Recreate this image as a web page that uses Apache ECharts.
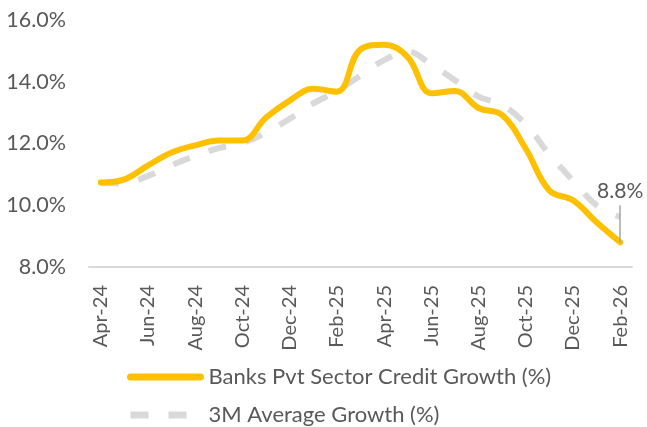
<!DOCTYPE html>
<html><head><meta charset="utf-8">
<script src="https://cdn.jsdelivr.net/npm/echarts@6/dist/echarts.min.js"></script>
<style>html,body{margin:0;padding:0;background:#fff}#c{width:647px;height:427px}</style>
</head><body><div id="c"></div>
<script>
const categories = ['Apr-24','May-24','Jun-24','Jul-24','Aug-24','Sep-24','Oct-24','Nov-24','Dec-24','Jan-25','Feb-25','Mar-25','Apr-25','May-25','Jun-25','Jul-25','Aug-25','Sep-25','Oct-25','Nov-25','Dec-25','Jan-26','Feb-26'];
const creditGrowth = [10.74,10.84,11.29,11.71,11.94,12.10,12.10,12.84,13.39,13.77,13.68,15.05,15.20,14.80,13.63,13.70,13.15,12.92,11.83,10.48,10.16,9.45,8.80];
const avgGrowth = [10.71,10.72,10.95,11.30,11.60,11.85,12.02,12.35,12.80,13.30,13.70,14.20,14.70,14.98,14.55,14.05,13.52,13.25,12.62,11.65,10.80,10.00,9.62];
const seriesNames = ['Banks Pvt Sector Credit Growth (%)','3M Average Growth (%)'];
const lastIdx = categories.length - 1;
const calloutText = creditGrowth[lastIdx].toFixed(1) + '%';

const FONT = 'Lato';
const TXT = '#595959';
const chart = echarts.init(document.getElementById('c'), null, {renderer: 'canvas'});
chart.setOption({
  animation: false,
  grid: {left: 89, right: 15, top: 20, bottom: 160, containLabel: false},
  xAxis: {
    type: 'category', data: categories, boundaryGap: true,
    axisLine: {show: true, lineStyle: {color: '#d9d9d9', width: 2}},
    axisTick: {show: false},
    axisLabel: {rotate: 90, interval: 1, margin: 18, color: TXT, fontFamily: FONT, fontSize: 20}
  },
  yAxis: {
    type: 'value', min: 8, max: 16, interval: 2,
    axisLine: {show: false}, axisTick: {show: false}, splitLine: {show: false},
    axisLabel: {margin: 23, color: TXT, fontFamily: FONT, fontSize: 21.5, formatter: v => v.toFixed(1) + '%'}
  },
  legend: {
    orient: 'vertical', left: 127, top: 366, padding: 0, itemWidth: 70, itemHeight: 20, itemGap: 16,
    itemStyle: {opacity: 0},
    textStyle: {color: TXT, fontFamily: FONT, fontSize: 22, lineHeight: 20, padding: [0, 0, 0, 3]},
    data: [
      {name: seriesNames[0], lineStyle: {width: 7}},
      {name: seriesNames[1], lineStyle: {width: 7}}
    ]
  },
  series: [
    {
      name: seriesNames[1], type: 'line', data: avgGrowth, smooth: 0.4, symbol: 'none', z: 2,
      lineStyle: {color: '#d9d9d9', width: 6, type: [18, 20], cap: 'butt'},
      itemStyle: {color: '#d9d9d9'}
    },
    {
      name: seriesNames[0], type: 'line', data: creditGrowth, smooth: 0.4, symbol: 'none', z: 3,
      lineStyle: {color: '#FFC000', width: 6, cap: 'round'},
      itemStyle: {color: '#FFC000'},
      markLine: {
        silent: true, symbol: ['none', 'none'],
        lineStyle: {color: '#a6a6a6', width: 1.5, type: 'solid'},
        label: {show: true, position: 'end', formatter: calloutText, color: TXT, fontFamily: FONT, fontSize: 21, distance: 4},
        data: [[
          {coord: [categories[lastIdx], creditGrowth[lastIdx]]},
          {coord: [categories[lastIdx], creditGrowth[lastIdx] + 1.2]}
        ]]
      }
    }
  ]
});
</script></body></html>
